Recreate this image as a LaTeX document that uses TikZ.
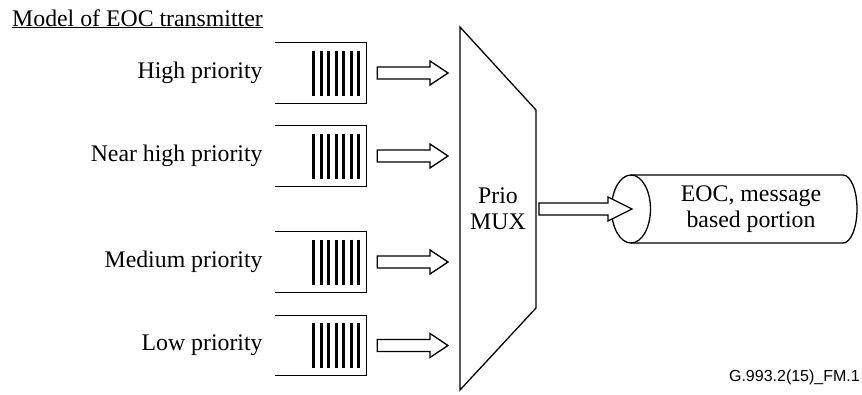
\documentclass[tikz,border=0pt]{standalone}
\usepackage{fontspec}
\setmainfont{Liberation Serif}
\newfontfamily\tagfont{Liberation Sans}
\usetikzlibrary{calc,positioning}
\tikzset{
  queue/.style={minimum width=91bp, minimum height=60bp, inner sep=0pt},
  priolabel/.style={inner sep=0pt, anchor=east},
  wall/.style={line width=1.3bp},
  bar/.style={line width=3bp},
  hollow/.style={line width=1.3bp, line join=miter, fill=white}
}
% block arrow: from, to, head length
\newcommand\blockarrow[3]{%
  \draw[hollow] ($(#1)+(0,-6)$) -- ($(#2)+(-#3,-6)$) -- ($(#2)+(-#3,-12)$) -- (#2)
    -- ($(#2)+(-#3,12)$) -- ($(#2)+(-#3,6)$) -- ($(#1)+(0,6)$) -- cycle;}

\begin{document}
\begin{tikzpicture}[x=1bp, y=-1bp, font=\fontsize{23.8bp}{26bp}\selectfont]
\useasboundingbox (0,0) rectangle (862,394);
\node[anchor=base west, inner sep=0pt] (title) at (12,26) {\underline{Model of EOC transmitter}};

% multiplexer
\coordinate (mnw) at (460,27);
\coordinate (mne) at (536,110);
\coordinate (mse) at (536,308);
\coordinate (msw) at (460,390);
\draw[wall] (mnw) -- (mne) -- (mse) -- (msw) -- cycle;
\node[align=center] (mux) at (498,209) {Prio\\MUX};

% priority queues
\foreach \y/\txt [count=\i] in {73/High priority, 156/Near high priority, 262/Medium priority, 345.5/Low priority}{
  \node[queue] (q\i) at (320.5,\y) {};
  \node[priolabel, left=12bp of q\i] (l\i) {\txt};
  \draw[wall] (q\i.north west) -- (q\i.north east) -- (q\i.south east) -- (q\i.south west);
  \foreach \k in {1,...,7}
    \draw[bar] ($(q\i.east)+(-7.5*\k,-22.5)$) -- ++(0,45);
  \coordinate (a\i) at ($(q\i.east)+(11,0)$);
  \coordinate (b\i) at ($(q\i -| mnw)+(-12,0)$);
  \blockarrow{a\i}{b\i}{18}
}

% output channel
\coordinate (cyl) at (631,209);
\draw[wall] (cyl) ellipse[x radius=19.5, y radius=34];
\draw[wall] ($(cyl)+(0,-34)$) -- (843,175) arc[start angle=-90, end angle=90, x radius=14, y radius=34] -- ($(cyl)+(0,34)$);
\node[align=center] (eoc) at (751,209) {EOC, message\\based portion};
\coordinate (c) at ($(mne |- mux)+(3,0)$);
\coordinate (d) at ($(cyl)+(1,0)$);
\blockarrow{c}{d}{24}

\node[anchor=base east, inner sep=0pt, font=\tagfont\fontsize{16bp}{18bp}\selectfont] (tag) at (860,381) {G.993.2(15)\_FM.1};
\end{tikzpicture}
\end{document}
